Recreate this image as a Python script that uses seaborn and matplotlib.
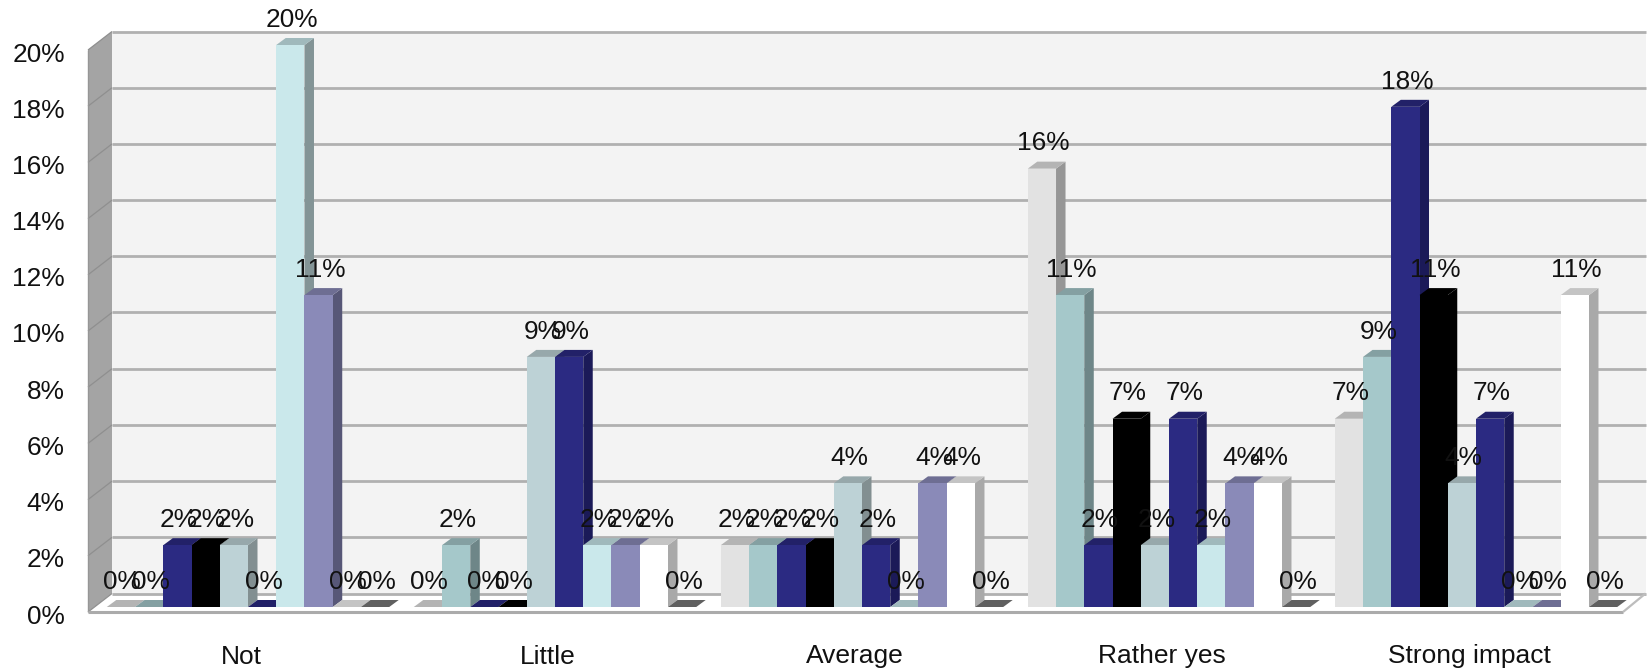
import matplotlib
matplotlib.use("Agg")
import matplotlib.pyplot as plt
from matplotlib.patches import Polygon
from matplotlib.transforms import ScaledTranslation
import pandas as pd
import seaborn as sns

categories = ["Not", "Little", "Average", "Rather yes", "Strong impact"]
series_names = ["S1", "S2", "S3", "S4", "S5", "S6", "S7", "S8", "S9", "S10"]

s1 = [0, 0, 2.2, 15.6, 6.7]
s2 = [0, 2.2, 2.2, 11.1, 8.9]
s3 = [2.2, 0, 2.2, 2.2, 17.8]
s4 = [2.2, 0, 2.2, 6.7, 11.1]
s5 = [2.2, 8.9, 4.4, 2.2, 4.4]
s6 = [0, 8.9, 2.2, 6.7, 6.7]
s7 = [20.0, 2.2, 0, 2.2, 0]
s8 = [11.1, 2.2, 4.4, 4.4, 0]
s9 = [0, 2.2, 4.4, 4.4, 11.1]
s10 = [0, 0, 0, 0, 0]
all_series = [s1, s2, s3, s4, s5, s6, s7, s8, s9, s10]

front_colors = ["#E2E2E2", "#A5C8CA", "#2B2A82", "#000000", "#BDD2D6",
                "#2B2A82", "#CAE8EB", "#8A8AB8", "#FFFFFF", "#8C8C8C"]
side_colors = ["#969696", "#6E8688", "#1B1A58", "#000000", "#828F91",
               "#1B1A58", "#839496", "#575777", "#A9A9A9", "#5A5A5A"]
top_colors = ["#B4B4B4", "#84A0A2", "#222168", "#000000", "#97A8AB",
              "#222168", "#A0B9BC", "#6E6E93", "#C4C4C4", "#606060"]

rows = [
    {"category": c, "series": name, "value": v}
    for name, vals in zip(series_names, all_series)
    for c, v in zip(categories, vals)
]
df = pd.DataFrame(rows)

sns.set_theme(style="white")
plt.rcParams["font.family"] = ["Liberation Sans", "DejaVu Sans"]

W, H = 1648, 668
fig = plt.figure(figsize=(W / 100, H / 100), dpi=100, facecolor="white")
ax = fig.add_axes([94.5 / W, 61 / H, 1535 / W, 562 / H])
ax.patch.set_visible(False)

sns.barplot(
    data=df, x="category", y="value", hue="series", order=categories,
    hue_order=series_names, palette=front_colors, saturation=1,
    width=0.92, gap=0, errorbar=None, linewidth=0, legend=False, ax=ax,
)
ax.set_xlim(-0.5, 4.5)
ax.set_ylim(0, 20)
ax.set_xlabel("")
ax.set_ylabel("")
sns.despine(ax=ax, left=True, bottom=True)

# Pixel sizes expressed in data units, used for the oblique depth of the box.
UX = 1 / 307.0
UY = 1 / 28.1
X0, X1 = ax.get_xlim()
Y0, Y1 = ax.get_ylim()
BACK = (17.5 * UX, 13.5 * UY)
FRONT = (-6.5 * UX, -5.0 * UY)
BAR_DX, BAR_DY = 9.5 * UX, 7.0 * UY


def poly(points, color, z, **kw):
    ax.add_patch(Polygon(points, closed=True, facecolor=color, edgecolor="none",
                         linewidth=0, zorder=z, clip_on=False, **kw))


def seg(xs, ys, color, lw, z):
    ax.plot(xs, ys, color=color, lw=lw, zorder=z, clip_on=False,
            solid_capstyle="butt")


bx0, bx1 = X0 + BACK[0], X1 + BACK[0] - 1.5 * UX
fx0, fx1 = X0 + FRONT[0], X1 + FRONT[0]

# Back wall, left wall and floor
poly([(bx0, Y0 + BACK[1]), (bx1, Y0 + BACK[1]), (bx1, Y1 + BACK[1]), (bx0, Y1 + BACK[1])],
     "#F3F3F3", 0.5)
poly([(fx0, Y0 + FRONT[1]), (bx0, Y0 + BACK[1]), (bx0, Y1 + BACK[1]), (fx0, Y1 + FRONT[1])],
     "#A4A4A4", 0.6)
poly([(fx0, Y0 + FRONT[1]), (fx1, Y0 + FRONT[1]), (bx1, Y0 + BACK[1]), (bx0, Y0 + BACK[1])],
     "#FFFFFF", 0.7)

# Gridlines on the back wall and their continuation across the left wall
yticks = list(range(0, 21, 2))
for v in yticks:
    seg([bx0, bx1], [v + BACK[1]] * 2, "#B0B0B0", 2.0, 0.8)
    seg([fx0, bx0], [v + FRONT[1], v + BACK[1]], "#8F8F8F", 0.9, 0.8)
seg([fx0, fx0], [Y0 + FRONT[1], Y1 + FRONT[1]], "#969696", 1.0, 0.9)
seg([fx0, fx1], [Y0 + FRONT[1]] * 2, "#ABABAB", 2.2, 0.9)
seg([fx1, bx1], [Y0 + FRONT[1], Y0 + BACK[1]], "#BDBDBD", 1.6, 0.9)

# Oblique side and top faces for every bar, painted series by series
for i, container in enumerate(ax.containers):
    for bar in container:
        x = bar.get_x()
        w = bar.get_width()
        h = bar.get_height()
        z = 3 + i * 0.1
        bar.set_zorder(z + 0.02)
        poly([(x + w, 0), (x + w + BAR_DX, BAR_DY), (x + w + BAR_DX, h + BAR_DY), (x + w, h)],
             side_colors[i], z)
        poly([(x, h), (x + w, h), (x + w + BAR_DX, h + BAR_DY), (x + BAR_DX, h + BAR_DY)],
             top_colors[i], z + 0.01)
        ax.annotate(f"{h:.0f}%", xy=(x + w / 2, h), xytext=(1, 18.2),
                    textcoords="offset points", ha="center", va="center",
                    fontsize=18.9, color="#111111", zorder=6,
                    annotation_clip=False)

ax.set_yticks(yticks)
ax.set_yticklabels([f"{v}%" for v in yticks])
ax.set_xticks(range(len(categories)))
ax.set_xticklabels(categories)
ax.tick_params(axis="both", length=0, labelsize=19, labelcolor="#111111")
ax.tick_params(axis="y", pad=21.5, labelsize=18.9)
ax.tick_params(axis="x", pad=27)
ax.grid(False)

y_shift = ScaledTranslation(0, -7 / 100, fig.dpi_scale_trans)
for lab in ax.get_yticklabels():
    lab.set_transform(lab.get_transform() + y_shift)
x_shift = ScaledTranslation(-7 / 100, 0, fig.dpi_scale_trans)
for lab in ax.get_xticklabels():
    lab.set_transform(lab.get_transform() + x_shift)

fig.savefig("out.png", dpi=100, facecolor="white")
